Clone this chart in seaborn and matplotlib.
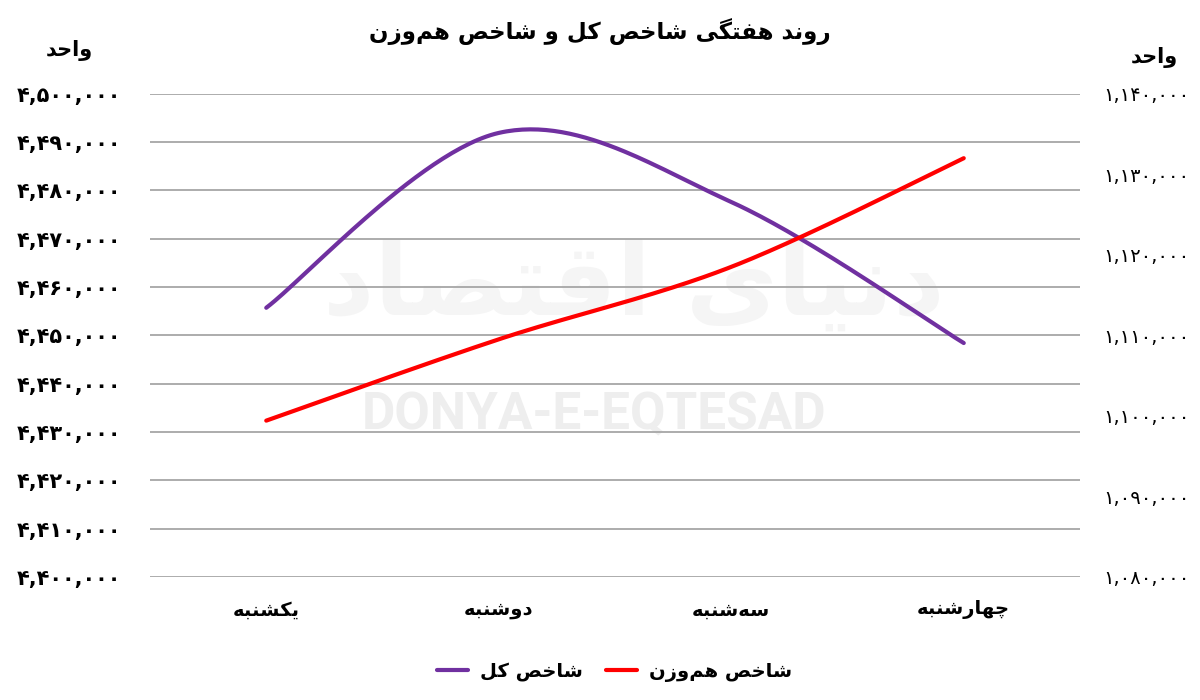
import numpy as np
import matplotlib
matplotlib.use('Agg')
import matplotlib.pyplot as plt
import matplotlib.ticker as mticker
import seaborn as sns

# ---------------------------------------------------------------
# data
# ---------------------------------------------------------------
days = ['یکشنبه', 'دوشنبه', 'سه‌شنبه', 'چهارشنبه']
total_index = [4455700, 4491900, 4477600, 4448400]      # left axis
equal_weight_index = [1099400, 1109500, 1118500, 1132000]  # right axis

left_ticks = list(range(4400000, 4500001, 10000))
right_ticks = list(range(1080000, 1140001, 10000))

title_txt = 'روند هفتگی شاخص کل و شاخص هم‌وزن'
unit_txt = 'واحد'
label_total = 'شاخص کل'
label_equal = 'شاخص هم‌وزن'

PURPLE = '#7030A0'
RED = '#FF0000'
GRID = '#A6A6A6'

# ---------------------------------------------------------------
# tiny Persian shaper: matplotlib has no Arabic shaping / bidi
# forms = (isolated, final, initial, medial); None -> right-joining only
# ---------------------------------------------------------------
FORMS = {
    'ا': (0xFE8D, 0xFE8E, None, None),
    'ب': (0xFE8F, 0xFE90, 0xFE91, 0xFE92),
    'ت': (0xFE95, 0xFE96, 0xFE97, 0xFE98),
    'ج': (0xFE9D, 0xFE9E, 0xFE9F, 0xFEA0),
    'ح': (0xFEA1, 0xFEA2, 0xFEA3, 0xFEA4),
    'خ': (0xFEA5, 0xFEA6, 0xFEA7, 0xFEA8),
    'د': (0xFEA9, 0xFEAA, None, None),
    'ر': (0xFEAD, 0xFEAE, None, None),
    'ز': (0xFEAF, 0xFEB0, None, None),
    'س': (0xFEB1, 0xFEB2, 0xFEB3, 0xFEB4),
    'ش': (0xFEB5, 0xFEB6, 0xFEB7, 0xFEB8),
    'ص': (0xFEB9, 0xFEBA, 0xFEBB, 0xFEBC),
    'ف': (0xFED1, 0xFED2, 0xFED3, 0xFED4),
    'ق': (0xFED5, 0xFED6, 0xFED7, 0xFED8),
    'ل': (0xFEDD, 0xFEDE, 0xFEDF, 0xFEE0),
    'م': (0xFEE1, 0xFEE2, 0xFEE3, 0xFEE4),
    'ن': (0xFEE5, 0xFEE6, 0xFEE7, 0xFEE8),
    'ه': (0xFEE9, 0xFEEA, 0xFEEB, 0xFEEC),
    'و': (0xFEED, 0xFEEE, None, None),
    'ی': (0xFBFC, 0xFBFD, 0xFBFE, 0xFBFF),
    'ک': (0xFB8E, 0xFB8F, 0xFB90, 0xFB91),
    'گ': (0xFB92, 0xFB93, 0xFB94, 0xFB95),
    'چ': (0xFB7A, 0xFB7B, 0xFB7C, 0xFB7D),
}


def fa(text):
    out = []
    n = len(text)
    for i, ch in enumerate(text):
        if ch == '\u200c':
            continue
        if ch not in FORMS:
            out.append(ch)
            continue
        prev = text[i - 1] if i > 0 else ''
        nxt = text[i + 1] if i + 1 < n else ''
        f = FORMS[ch]
        join_prev = prev in FORMS and FORMS[prev][2] is not None
        join_next = f[2] is not None and nxt in FORMS
        if join_prev and join_next:
            code = f[3]
        elif join_prev:
            code = f[1]
        elif join_next:
            code = f[2]
        else:
            code = f[0]
        out.append(chr(code))
    return ''.join(out)[::-1]


FA_DIGITS = str.maketrans('0123456789', '۰۱۲۳۴۵۶۷۸۹')


def fa_num(v, pos=None):
    return f'{int(round(v)):,}'.translate(FA_DIGITS)


def smooth(xs, ys, steps=60):
    # excel-like smoothed line (catmull-rom as cubic bezier)
    p = np.column_stack([xs, ys]).astype(float)
    p = np.vstack([p[0], p, p[-1]])
    pts = []
    for i in range(1, len(p) - 2):
        p0, p1, p2, p3 = p[i - 1], p[i], p[i + 1], p[i + 2]
        b1 = p1 + (p2 - p0) / 6
        b2 = p2 - (p3 - p1) / 6
        t = np.linspace(0, 1, steps)[:, None]
        seg = ((1 - t) ** 3) * p1 + 3 * ((1 - t) ** 2) * t * b1 + 3 * (1 - t) * t ** 2 * b2 + t ** 3 * p2
        pts.append(seg if i == 1 else seg[1:])
    pts = np.vstack(pts)
    return pts[:, 0], pts[:, 1]


# ---------------------------------------------------------------
# plot
# ---------------------------------------------------------------
sns.set_theme(style='white')
plt.rcParams['font.family'] = ['DejaVu Sans']
plt.rcParams['text.color'] = 'black'
plt.rcParams['xtick.color'] = 'black'
plt.rcParams['ytick.color'] = 'black'

fig = plt.figure(figsize=(12, 7), dpi=100)
ax = fig.add_axes([0.125, 0.176, 0.775, 0.690])
ax2 = ax.twinx()

xpos = np.arange(len(days))

# watermark
ax.text(0.52, 0.60, fa('دنیای اقتصاد'), transform=ax.transAxes, ha='center', va='center',
        fontsize=72, fontweight='bold', color='#F5F5F5', zorder=0)
ax.text(0.477, 0.335, 'DONYA-E-EQTESAD', transform=ax.transAxes, ha='center', va='center',
        fontsize=37, fontweight='bold', family='Roboto', color='#EEEEEE', zorder=0)

sx, sy = smooth(xpos, total_index)
sns.lineplot(x=sx, y=sy, ax=ax, color=PURPLE, linewidth=3, sort=False, label=fa(label_total),
             legend=False, solid_capstyle='round')
sx2, sy2 = smooth(xpos, equal_weight_index)
sns.lineplot(x=sx2, y=sy2, ax=ax2, color=RED, linewidth=3, sort=False, label=fa(label_equal),
             legend=False, solid_capstyle='round')

ax.set_xlim(-0.5, len(days) - 0.5)
ax.set_ylim(left_ticks[0], left_ticks[-1])
ax2.set_ylim(right_ticks[0], right_ticks[-1])
ax.set_yticks(left_ticks)
ax2.set_yticks(right_ticks)
ax.yaxis.set_major_formatter(mticker.FuncFormatter(fa_num))
ax2.yaxis.set_major_formatter(mticker.FuncFormatter(fa_num))
ax.set_xticks(xpos)
ax.set_xticklabels([fa(d) for d in days], fontsize=14, fontweight='bold')

ax.grid(axis='y', color=GRID, linewidth=1.3)
ax.grid(axis='x', visible=False)
for a in (ax, ax2):
    for s in a.spines.values():
        s.set_visible(False)
    a.tick_params(length=0)
    a.set_xlabel('')
    a.set_ylabel('')

ax.tick_params(axis='y', labelsize=15, pad=21)
ax.tick_params(axis='x', pad=17)
ax2.tick_params(axis='y', labelsize=14, pad=17)
for lab in ax.get_yticklabels():
    lab.set_fontweight('bold')

fig.text(0.5, 0.955, fa(title_txt), ha='center', va='center', fontsize=16.5, fontweight='bold')
fig.text(0.058, 0.928, fa(unit_txt), ha='center', va='center', fontsize=15, fontweight='bold')
fig.text(0.962, 0.918, fa(unit_txt), ha='center', va='center', fontsize=15, fontweight='bold')

h1, l1 = ax.get_legend_handles_labels()
h2, l2 = ax2.get_legend_handles_labels()
fig.legend(h1 + h2, l1 + l2, loc='center', bbox_to_anchor=(0.512, 0.04), ncol=2, frameon=False,
           handlelength=1.6, handletextpad=0.6, columnspacing=1.2,
           prop={'weight': 'bold', 'size': 14})

fig.savefig('out.png', dpi=100)
